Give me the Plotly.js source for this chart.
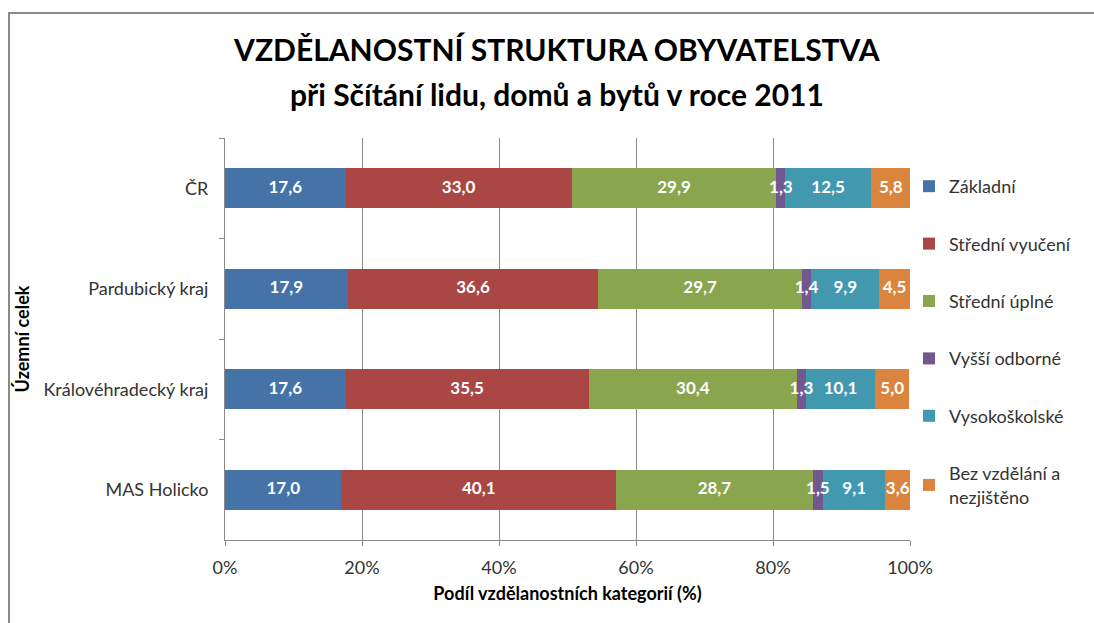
<!DOCTYPE html>
<html>
<head>
<meta charset="utf-8">
<script src="https://cdn.plot.ly/plotly-3.0.1.min.js"></script>
<style>
html,body{margin:0;padding:0;background:#fff;}
#chart{width:1094px;height:623px;position:relative;}
#frame{position:absolute;left:8px;top:12px;width:1200px;height:700px;border-top:2px solid #8a8a8a;border-left:2px solid #8a8a8a;pointer-events:none;}
</style>
</head>
<body>
<div id="chart"></div>
<div id="frame"></div>
<script>
const categories = ["ČR", "Pardubický kraj", "Královéhradecký kraj", "MAS Holicko"];
const seriesNames = ["Základní", "Střední vyučení", "Střední úplné", "Vyšší odborné", "Vysokoškolské", "Bez vzdělání a<br>nezjištěno"];
const zakladni = [17.6, 17.9, 17.6, 17.0];
const stredniVyuceni = [33.0, 36.6, 35.5, 40.1];
const stredniUplne = [29.9, 29.7, 30.4, 28.7];
const vyssiOdborne = [1.3, 1.4, 1.3, 1.5];
const vysokoskolske = [12.5, 9.9, 10.1, 9.1];
const bezVzdelani = [5.8, 4.5, 5.0, 3.6];
const xTicks = [0, 20, 40, 60, 80, 100];
const colors = ["#4572A7", "#AA4643", "#89A54E", "#71588F", "#4198AF", "#DB843D"];

const allSeries = [zakladni, stredniVyuceni, stredniUplne, vyssiOdborne, vysokoskolske, bezVzdelani];
const FONT = "Lato, 'Open Sans', sans-serif";
const fmt = v => v.toFixed(1).replace(".", ",");
const labelFont = {family: FONT, size: 17, color: "#ffffff", weight: "bold"};

const traces = allSeries.map((vals, i) => ({
  type: "bar",
  orientation: "h",
  name: seriesNames[i],
  y: categories,
  x: vals,
  marker: {color: colors[i], line: {width: 0}},
  legendgroup: "g" + i,
  hoverinfo: "name+x"
}));

// data labels drawn on top of all bars, centred in each segment
const cum = categories.map(() => 0);
allSeries.forEach((vals, i) => {
  const mids = vals.map((v, k) => cum[k] + v / 2);
  vals.forEach((v, k) => { cum[k] += v; });
  traces.push({
    type: "scatter",
    mode: "text",
    y: categories,
    x: mids,
    text: vals.map(fmt),
    textposition: "middle center",
    textfont: labelFont,
    showlegend: false,
    hoverinfo: "skip",
    cliponaxis: false
  });
});

const layout = {
  width: 1094,
  height: 623,
  paper_bgcolor: "#ffffff",
  plot_bgcolor: "#ffffff",
  margin: {l: 225, r: 184, t: 138, b: 83},
  barmode: "stack",
  bargap: 0.6,
  font: {family: FONT, size: 18, color: "#333333"},
  title: {
    text: "<b>VZDĚLANOSTNÍ STRUKTURA OBYVATELSTVA</b>",
    font: {family: FONT, size: 30, color: "#000000"},
    xref: "container", x: 0.509, xanchor: "center",
    yref: "container", y: 1 - 50/623, yanchor: "middle"
  },
  annotations: [{
    text: "<b>při Sčítání lidu, domů a bytů v roce 2011</b>",
    font: {family: FONT, size: 30, color: "#000000"},
    xref: "paper", yref: "paper", x: 0.4847, y: 1 + 44/402,
    xanchor: "center", yanchor: "middle", showarrow: false
  }],
  xaxis: {
    range: [0, 100],
    tickvals: xTicks,
    ticktext: xTicks.map(t => t + "%"),
    showgrid: true,
    gridcolor: "#8a8a8a",
    gridwidth: 1,
    showline: true,
    linecolor: "#8a8a8a",
    linewidth: 1,
    ticks: "outside",
    ticklen: 5,
    tickcolor: "#8a8a8a",
    ticklabelstandoff: 6,
    zeroline: false,
    tickfont: {family: FONT, size: 18, color: "#333333"},
    title: {text: "<b>Podíl vzdělanostních kategorií (%)</b>", font: {family: FONT, size: 18, color: "#000000"}, standoff: 10}
  },
  yaxis: {
    autorange: "reversed",
    type: "category",
    showgrid: false,
    showline: true,
    linecolor: "#8a8a8a",
    linewidth: 1,
    ticks: "outside",
    ticklen: 5,
    tickcolor: "#8a8a8a",
    tickson: "boundaries",
    ticklabelstandoff: 12,
    tickfont: {family: FONT, size: 18, color: "#333333"},
    title: {text: "<b>Územní celek</b>", font: {family: FONT, size: 18, color: "#000000"}, standoff: 9}
  },
  legend: {
    x: (909 - 225) / 685, xanchor: "left", xref: "paper",
    y: 1 - 30/402, yanchor: "top",
    traceorder: "grouped",
    tracegroupgap: 31,
    font: {family: FONT, size: 18, color: "#333333"},
    itemwidth: 30,
    bgcolor: "rgba(0,0,0,0)"
  },
  showlegend: true
};

Plotly.newPlot("chart", traces, layout, {displayModeBar: false, staticPlot: true});
</script>
</body>
</html>
